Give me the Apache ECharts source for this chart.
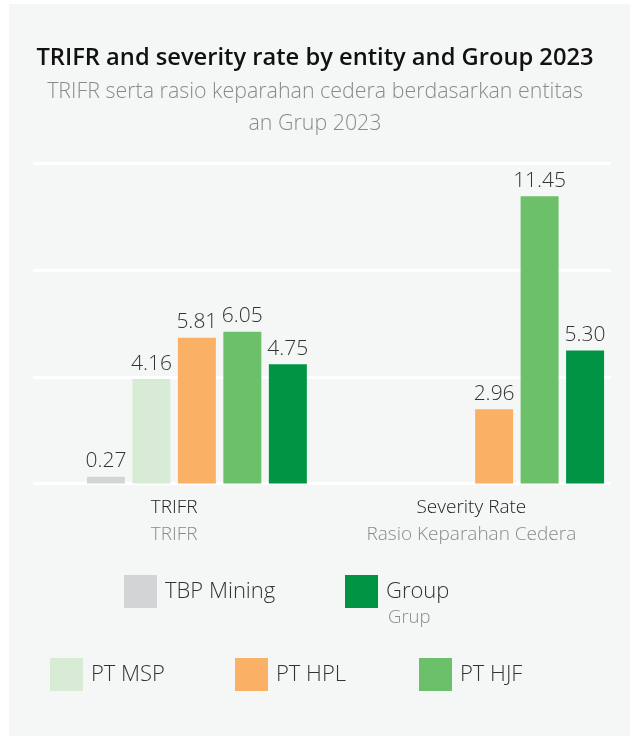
<!DOCTYPE html>
<html><head><meta charset="utf-8">
<script src="https://cdn.jsdelivr.net/npm/echarts@6/dist/echarts.min.js"></script>
<style>html,body{margin:0;padding:0;background:#fff}#c{width:630px;height:736px}</style>
</head><body><div id="c"></div>
<script>
// ---- data ----
const categories = ['TRIFR', 'Severity Rate'];
const categoriesId = ['TRIFR', 'Rasio Keparahan Cedera'];
const seriesNames = ['TBP Mining', 'PT MSP', 'PT HPL', 'PT HJF', 'Group'];
const tbpMining = [0.27, null];
const ptMsp = [4.16, null];
const ptHpl = [5.81, 2.96];
const ptHjf = [6.05, 11.45];
const group = [4.75, 5.30];
const axisMin = 0, axisMax = 12.75, axisInterval = 4.25;

const colors = {'TBP Mining':'#d3d4d5','PT MSP':'#d8ecd5','PT HPL':'#fab166','PT HJF':'#6dc06a','Group':'#009444'};
const values = {'TBP Mining':tbpMining,'PT MSP':ptMsp,'PT HPL':ptHpl,'PT HJF':ptHjf,'Group':group};
const FONT = '"Open Sans", "Noto Sans", sans-serif';

const chart = echarts.init(document.getElementById('c'), null, {renderer:'canvas'});

const barCommon = {
  type:'bar', xAxisIndex:1, yAxisIndex:1, barWidth:38, barGap:'19.7%',
  label:{show:true, position:'top', distance:5, fontSize:21, fontWeight:300, color:'#333', fontFamily:FONT,
         formatter: p => p.value == null ? '' : Number(p.value).toFixed(2)}
};
const series = [
  Object.assign({}, barCommon, {name:'', data: categories.map(()=>null)})
].concat(seriesNames.map(n => Object.assign({}, barCommon, {
  name:n, data: values[n], itemStyle:{color:colors[n]}
})));

function legendAt(name, left, top){
  return {data:[name], left:left, top:top, padding:0, itemWidth:33, itemHeight:33, icon:'rect',
    selectedMode:false,
    textStyle:{fontSize:22, fontWeight:300, color:'#333', fontFamily:FONT, padding:[0,0,0,3]}};
}

chart.setOption({
  backgroundColor:'#fff',
  animation:false,
  textStyle:{fontFamily:FONT},
  graphic:[
    {type:'rect', left:9, top:4, shape:{width:621, height:732}, style:{fill:'#f5f7f6'}, z:-10},
    {type:'text', left:388, top:608, style:{text:'Grup', fontSize:18.5, fontWeight:300, fill:'#8a8a8a', fontFamily:FONT}}
  ],
  title:{
    text:'TRIFR and severity rate by entity and Group 2023',
    subtext:'TRIFR serta rasio keparahan cedera berdasarkan entitas\nan Grup 2023',
    left:'center', top:41, padding:0, itemGap:1,
    textStyle:{fontSize:23.7, fontWeight:600, color:'#111', lineHeight:34, fontFamily:FONT},
    subtextStyle:{fontSize:21.4, fontWeight:300, color:'#8a8a8a', lineHeight:32, align:'center', fontFamily:FONT}
  },
  legend:[
    legendAt('TBP Mining', 124, 575),
    legendAt('Group', 345, 575),
    legendAt('PT MSP', 50, 658),
    legendAt('PT HPL', 235, 658),
    legendAt('PT HJF', 419, 658)
  ],
  grid:[
    {left:33, right:19, top:163.5, bottom:252.5},
    {left:25.5, right:10, top:163.5, bottom:252.5}
  ],
  xAxis:[
    {type:'category', gridIndex:0, data:categories, show:false},
    {type:'category', gridIndex:1, data:categories,
     axisLine:{show:false}, axisTick:{show:false},
     axisLabel:{margin:11, interval:0,
       formatter:(v, i) => '{a|' + v + '}\n{b|' + categoriesId[i] + '}',
       rich:{a:{fontSize:19, fontWeight:300, color:'#222', lineHeight:27, fontFamily:FONT},
             b:{fontSize:19, fontWeight:300, color:'#8a8a8a', lineHeight:27, fontFamily:FONT}}}}
  ],
  yAxis:[
    {type:'value', gridIndex:0, min:axisMin, max:axisMax, interval:axisInterval,
     axisLabel:{show:false}, axisLine:{show:false}, axisTick:{show:false},
     splitLine:{show:true, lineStyle:{color:'#ffffff', width:3}}},
    {type:'value', gridIndex:1, min:axisMin, max:axisMax, interval:axisInterval,
     axisLabel:{show:false}, axisLine:{show:false}, axisTick:{show:false}, splitLine:{show:false}}
  ],
  series:series
});
</script></body></html>
